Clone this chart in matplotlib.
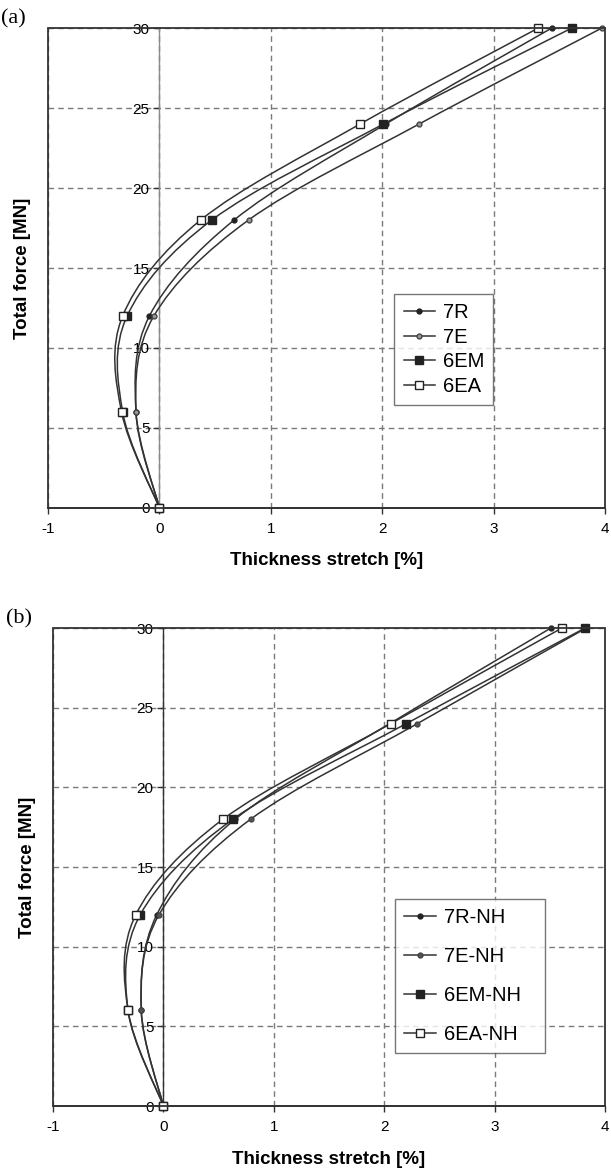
import numpy as np
import matplotlib
matplotlib.use("Agg")
import matplotlib.pyplot as plt
from matplotlib.path import Path
from matplotlib.patches import PathPatch, Rectangle
from matplotlib.lines import Line2D

plt.rcParams['font.family'] = ['Liberation Sans', 'DejaVu Sans']
plt.rcParams['axes.unicode_minus'] = False

# force levels [MN]
force = [0, 6, 12, 18, 24, 30]

# panel (a) thickness stretch [%]
s_7R = [0, -0.21, -0.09, 0.67, 2.03, 3.52]
s_7E = [0, -0.21, -0.05, 0.80, 2.33, 3.97]
s_6EM = [0, -0.33, -0.29, 0.47, 2.01, 3.70]
s_6EA = [0, -0.34, -0.33, 0.37, 1.80, 3.40]

# panel (b) thickness stretch [%]
s_7R_NH = [0, -0.20, -0.06, 0.65, 2.05, 3.51]
s_7E_NH = [0, -0.20, -0.04, 0.79, 2.30, 3.83]
s_6EM_NH = [0, -0.32, -0.21, 0.63, 2.20, 3.82]
s_6EA_NH = [0, -0.32, -0.25, 0.54, 2.06, 3.61]

labels_a = ['7R', '7E', '6EM', '6EA']
labels_b = ['7R-NH', '7E-NH', '6EM-NH', '6EA-NH']

xticks = [-1, 0, 1, 2, 3, 4]
yticks = [0, 5, 10, 15, 20, 25, 30]

LC = '#333333'
styles = [
    dict(marker='o', ms=3.5, mfc='#222222', mec='#222222'),
    dict(marker='o', ms=3.5, mfc='#999999', mec='#444444'),
    dict(marker='s', ms=5.5, mfc='#222222', mec='#222222'),
    dict(marker='s', ms=5.5, mfc='white', mec='#222222'),
]
styles_b = [
    dict(marker='o', ms=3.5, mfc='#222222', mec='#222222'),
    dict(marker='o', ms=3.5, mfc='#555555', mec='#444444'),
    dict(marker='s', ms=5.5, mfc='#222222', mec='#222222'),
    dict(marker='s', ms=5.5, mfc='white', mec='#222222'),
]


def smooth_path(x, y):
    # Excel-like smoothed line: Catmull-Rom segments as cubic Bezier
    p = np.column_stack([x, y]).astype(float)
    n = len(p)
    verts = [p[0]]
    codes = [Path.MOVETO]
    for i in range(n - 1):
        p0 = p[max(i - 1, 0)]
        p1 = p[i]
        p2 = p[i + 1]
        p3 = p[min(i + 2, n - 1)]
        verts += [p1 + (p2 - p0) / 6, p2 - (p3 - p1) / 6, p2]
        codes += [Path.CURVE4] * 3
    return Path(verts, codes)


def panel(ax, series, labels, sty, zero_color, leg_bbox, leg_space, tag):
    ax.set_xlim(-1, 4)
    ax.set_ylim(0, 30)
    ax.set_xticks(xticks)
    ax.set_yticks(yticks)
    ax.grid(True, color='#7a7a7a', ls=(0, (4, 3)), lw=1.0, zorder=0)
    ax.spines['left'].set_position(('data', 0))
    ax.spines['left'].set_color(zero_color)
    ax.spines['left'].set_linewidth(1.0)
    for sp in ['top', 'right']:
        ax.spines[sp].set_visible(False)
    ax.spines['bottom'].set_color(LC)
    ax.spines['bottom'].set_linewidth(1.3)
    ax.add_patch(Rectangle((0, 0), 1, 1, transform=ax.transAxes, fill=False,
                           ec=LC, lw=1.3, zorder=5, clip_on=False))
    ax.tick_params(axis='x', length=4, width=1, color=LC, labelsize=11, pad=6)
    ax.tick_params(axis='y', length=4, width=1, color=LC, labelsize=11, pad=3)
    handles = []
    for s, lab, st in zip(series, labels, sty):
        ax.add_patch(PathPatch(smooth_path(s, force), fill=False, ec=LC, lw=1.1, zorder=3))
        ax.plot(s, force, ls='none', zorder=4, clip_on=False, **st)
        handles.append(Line2D([], [], color=LC, lw=1.1, **st))
    leg = ax.legend(handles, labels, loc='lower left', bbox_to_anchor=leg_bbox,
                    bbox_transform=ax.transData, mode='expand', fontsize=14.5,
                    frameon=True, fancybox=False, edgecolor='#555555',
                    handlelength=1.55, handletextpad=0.4, labelspacing=leg_space,
                    borderaxespad=0, borderpad=0.45)
    leg.get_frame().set_linewidth(1.0)
    ax.set_xlabel('Thickness stretch [%]', fontsize=13.5, fontweight='bold', labelpad=12)
    ax.set_ylabel('Total force [MN]', fontsize=13.5, fontweight='bold')
    ax.yaxis.set_label_coords(-0.03, 0.5)
    ax.text(-0.085, 1.0, tag, transform=ax.transAxes, fontsize=16,
            family='Liberation Serif', va='bottom', ha='left')


fig = plt.figure(figsize=(6.11, 11.73), dpi=100)
ax1 = fig.add_axes([0.0786, 0.567, 0.9116, 0.409])
ax2 = fig.add_axes([0.0867, 0.0571, 0.9035, 0.4075])

panel(ax1, [s_7R, s_7E, s_6EM, s_6EA], labels_a, styles, '#8a8a8a',
      (2.11, 6.44, 0.88, 7.06), 0.28, '(a)')
panel(ax2, [s_7R_NH, s_7E_NH, s_6EM_NH, s_6EA_NH], labels_b, styles_b, '#333333',
      (2.10, 3.35, 1.36, 10.0), 0.98, '(b)')

plt.savefig('out.png', dpi=100)
